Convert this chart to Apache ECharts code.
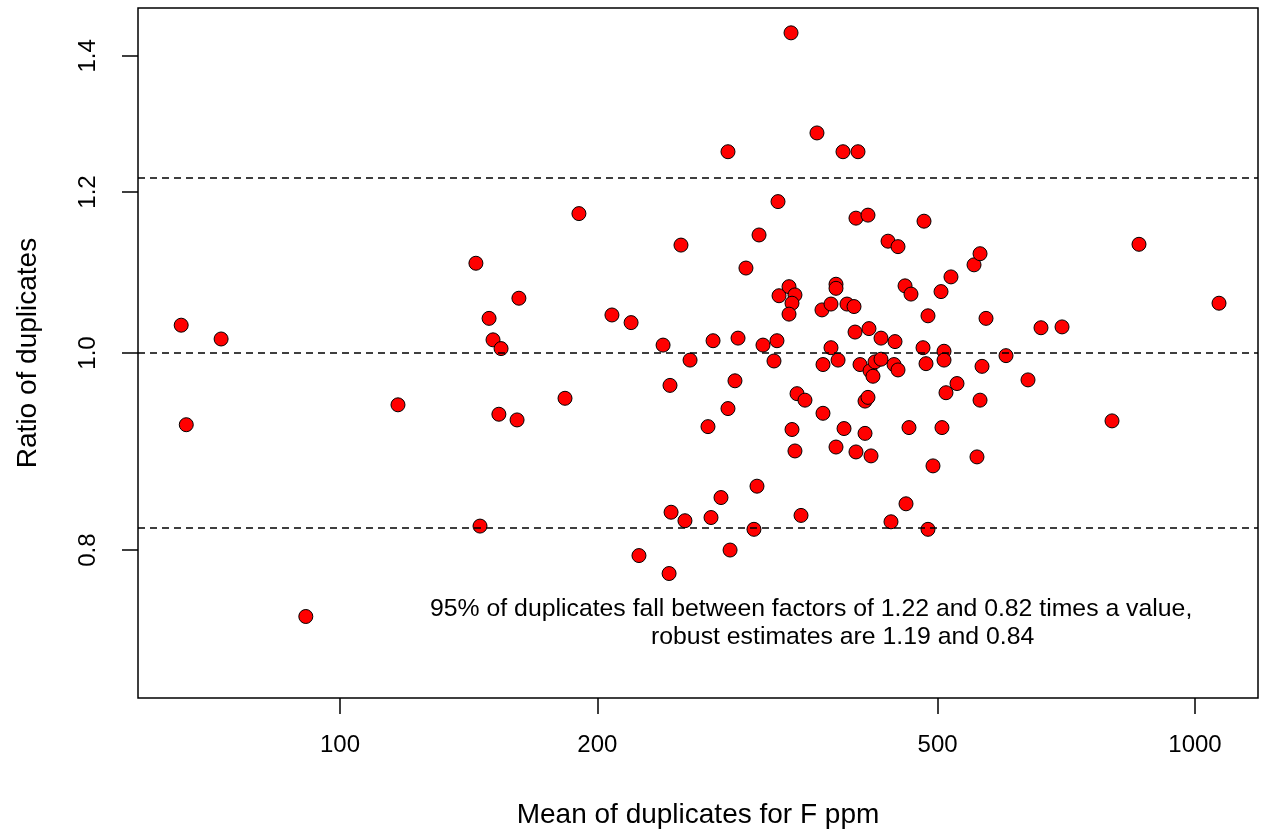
<!DOCTYPE html>
<html>

<head>
    <meta charset="utf-8">
    <title>Ratio of duplicates</title>
    <script src="https://cdn.jsdelivr.net/npm/echarts@6/dist/echarts.min.js"></script>
    <style>
        html, body { margin: 0; padding: 0; background: #fff; }
        #main { width: 1262px; height: 831px; }
    </style>
</head>

<body>
    <div id="main"></div>
    <script type="text/javascript">
        // mean of the duplicate pair (F ppm)
        var meanF = [65.2, 66.1, 72.6, 91.2, 116.9, 144.2, 145.8, 149.4, 151.0, 153.4,
            154.3, 161.1, 161.9, 183.3, 190.3, 208.0, 219.0, 223.7, 238.7, 242.6,
            243.2, 243.9, 250.5, 253.2, 256.7, 269.4, 271.6, 273.1, 279.0, 284.3,
            284.3, 285.9, 289.7, 292.1, 298.4, 304.9, 307.4, 309.1, 312.4, 321.8,
            324.4, 325.3, 326.2, 335.1, 340.5, 337.8, 335.1, 336.9, 337.8, 340.5,
            342.4, 346.1, 349.8, 361.3, 366.2, 367.2, 367.2, 375.2, 375.2, 380.3,
            380.3, 380.3, 382.4, 387.5, 388.6, 391.7, 399.2, 400.3, 401.3, 401.3,
            403.5, 405.7, 411.2, 411.2, 414.5, 414.5, 415.6, 416.8, 417.9, 420.1,
            422.4, 429.3, 429.3, 437.5, 441.0, 445.8, 444.6, 449.4, 449.4, 458.0,
            459.2, 462.9, 465.4, 480.7, 482.0, 484.6, 487.2, 487.2, 493.8, 504.6,
            505.9, 508.7, 508.7, 511.4, 518.3, 526.8, 551.5, 555.9, 560.5, 560.5,
            563.5, 569.6, 601.1, 637.8, 660.5, 699.0, 799.7, 860.0, 1066.8];
        // ratio of the two duplicates
        var ratio = [1.032, 0.922, 1.016, 0.742, 0.943, 1.107, 0.822, 1.040, 1.015, 0.933,
            1.005, 0.927, 1.064, 0.950, 1.171, 1.044, 1.035, 0.795, 1.009, 0.779,
            0.964, 0.835, 1.130, 0.827, 0.992, 0.920, 0.830, 1.014, 0.849, 1.256,
            0.939, 0.800, 0.969, 1.017, 1.101, 0.819, 0.860, 1.143, 1.009, 0.991,
            1.014, 1.187, 1.067, 1.078, 1.068, 1.058, 1.045, 1.437, 0.917, 0.895,
            0.955, 0.832, 0.948, 1.283, 1.050, 0.987, 0.934, 1.057, 1.006, 1.081,
            1.076, 0.899, 0.992, 1.256, 0.918, 1.057, 1.054, 1.024, 1.165, 0.894,
            1.256, 0.987, 0.947, 0.913, 1.169, 0.951, 1.028, 0.980, 0.890, 0.974,
            0.990, 0.993, 1.017, 1.135, 0.826, 1.013, 0.987, 0.981, 1.128, 1.079,
            0.843, 0.919, 1.069, 1.006, 1.161, 0.988, 1.043, 0.819, 0.880, 1.072,
            0.919, 1.002, 0.992, 0.956, 1.090, 0.966, 1.105, 0.889, 1.119, 0.948,
            0.985, 1.040, 0.997, 0.970, 1.029, 1.030, 0.926, 1.131, 1.058];

        var xTicks = [100, 200, 500, 1000];
        var yTicks = [0.8, 1.0, 1.2, 1.4];
        // dashed reference lines: upper 95%, centre, lower 95%
        var refLines = [1.22, 1.0, 0.82];
        var noteLines = ['95% of duplicates fall between factors of 1.22 and 0.82 times a value,',
            'robust estimates are 1.19 and 0.84'];

        var lg = function (v) { return Math.log10(v); };

        // both axes are logarithmic, so plot log10 values on value axes
        var points = [];
        for (var i = 0; i < Math.min(meanF.length, ratio.length); i++) {
            points.push([lg(meanF[i]), lg(ratio[i])]);
        }

        var font = 'Liberation Sans, Arial, Helvetica, sans-serif';

        var myChart = echarts.init(document.getElementById('main'));
        var option = {
            animation: false,
            backgroundColor: '#fff',
            grid: {
                left: 138, right: 4, top: 8, bottom: 133,
                containLabel: false,
                // v6 would otherwise shrink the grid to keep the axis names inside
                outerBoundsMode: 'none',
                show: true,
                borderColor: '#000',
                borderWidth: 1.5,
                backgroundColor: 'transparent'
            },
            xAxis: {
                type: 'value',
                min: 1.76374,
                max: 3.07368,
                name: 'Mean of duplicates for F ppm',
                nameLocation: 'middle',
                nameGap: 103,
                nameTextStyle: { fontFamily: font, fontSize: 28, color: '#000' },
                axisLine: { show: false, onZero: false },
                splitLine: { show: false },
                axisTick: {
                    show: true, inside: false, length: 16,
                    customValues: xTicks.map(lg),
                    lineStyle: { color: '#000', width: 1.5 }
                },
                axisLabel: {
                    customValues: xTicks.map(lg),
                    margin: 35,
                    fontFamily: font, fontSize: 24, color: '#000',
                    formatter: function (v) { return String(Math.round(Math.pow(10, v))); }
                }
            },
            yAxis: {
                type: 'value',
                min: -0.16968,
                max: 0.16968,
                name: 'Ratio of duplicates',
                nameLocation: 'middle',
                nameGap: 96,
                nameTextStyle: { fontFamily: font, fontSize: 28, color: '#000' },
                axisLine: { show: false, onZero: false },
                splitLine: { show: false },
                axisTick: {
                    show: true, inside: false, length: 16,
                    customValues: yTicks.map(lg),
                    lineStyle: { color: '#000', width: 1.5 }
                },
                axisLabel: {
                    customValues: yTicks.map(lg),
                    rotate: 90,
                    margin: 38,
                    fontFamily: font, fontSize: 24, color: '#000',
                    formatter: function (v) { return Math.pow(10, v).toFixed(1); }
                }
            },
            series: [{
                type: 'scatter',
                data: points,
                symbol: 'circle',
                symbolSize: 14,
                itemStyle: { color: '#ff0000', opacity: 1, borderColor: '#000', borderWidth: 1 },
                markLine: {
                    silent: true,
                    precision: 6,
                    symbol: ['none', 'none'],
                    label: { show: false },
                    lineStyle: { color: '#000', type: [7, 5], width: 1.5 },
                    data: refLines.map(function (r) { return { yAxis: lg(r) }; })
                },
                z: 3
            }],
            graphic: [{
                type: 'text', left: 430, top: 597,
                style: { text: noteLines[0], font: '24.8px ' + font, fill: '#000' }
            }, {
                type: 'text', left: 651, top: 625,
                style: { text: noteLines[1], font: '24.8px ' + font, fill: '#000' }
            }]
        };
        myChart.setOption(option);
    </script>
</body>

</html>
